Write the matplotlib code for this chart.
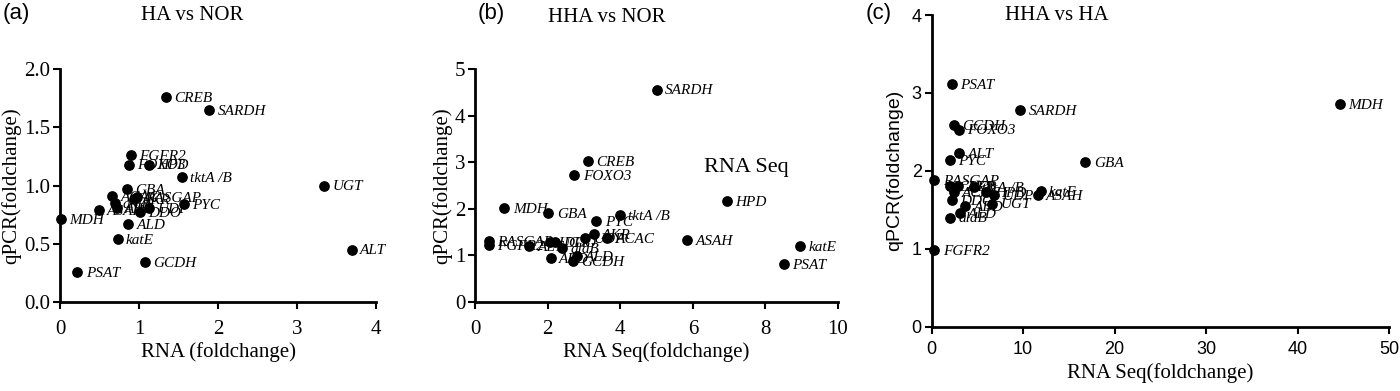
import matplotlib
matplotlib.use("Agg")
import matplotlib.pyplot as plt

# --------------------------------------------------
# Data
# --------------------------------------------------
genes_a = ["CREB", "SARDH", "FGFR2", "FOXO3", "HPD", "tktA /B", "UGT", "ALT",
           "GBA", "ACAC", "RASGAP", "AKR", "PYC", "MDH", "ASAH", "aldB", "ABD",
           "DDO", "UDP", "ALD", "katE", "GCDH", "PSAT"]
rna_a = [1.34, 1.89, 0.90, 0.87, 1.13, 1.54, 3.34, 3.69,
         0.85, 0.66, 0.97, 0.93, 1.57, 0.01, 0.49, 0.69, 0.72,
         1.01, 1.13, 0.86, 0.73, 1.07, 0.22]
qpcr_a = [1.76, 1.65, 1.26, 1.18, 1.18, 1.07, 1.00, 0.45,
          0.97, 0.91, 0.90, 0.88, 0.84, 0.71, 0.79, 0.85, 0.81,
          0.77, 0.81, 0.67, 0.54, 0.34, 0.26]

genes_b = ["SARDH", "CREB", "FOXO3", "HPD", "MDH", "GBA", "tktA /B", "PYC",
           "AKR", "ACAC", "UDP", "ASAH", "katE", "PSAT", "RASGAP", "FGFR2",
           "ALT", "UGT", "DDO", "aldB", "ABD", "GCDH", "ALD"]
rna_b = [5.01, 3.10, 2.74, 6.95, 0.81, 2.02, 3.99, 3.34,
         3.27, 3.64, 3.03, 5.84, 8.96, 8.50, 0.39, 0.38,
         1.50, 2.07, 2.20, 2.39, 2.09, 2.69, 2.80]
qpcr_b = [4.56, 3.03, 2.73, 2.17, 2.01, 1.90, 1.86, 1.73,
          1.45, 1.37, 1.37, 1.33, 1.21, 0.81, 1.31, 1.23,
          1.21, 1.29, 1.28, 1.15, 0.95, 0.88, 0.98]

genes_c = ["PSAT", "SARDH", "MDH", "GCDH", "FOXO3", "ALT", "PYC", "GBA",
           "RASGAP", "FGFR2", "katE", "ASAH", "CREB", "AKR", "tktA /B", "HPD",
           "ACAC", "DDO", "UDP", "UGT", "ALD", "aldB", "ABD"]
rna_c = [2.2, 9.7, 44.6, 2.4, 3.0, 3.0, 2.0, 16.8,
         0.3, 0.3, 11.9, 11.6, 2.0, 2.9, 4.6, 6.0,
         2.4, 2.2, 6.8, 6.6, 3.1, 2.0, 3.7]
qpcr_c = [3.11, 2.78, 2.86, 2.59, 2.53, 2.23, 2.14, 2.11,
          1.88, 0.98, 1.74, 1.69, 1.81, 1.81, 1.79, 1.73,
          1.73, 1.62, 1.69, 1.58, 1.46, 1.40, 1.55]

serif = "Liberation Serif"
sans = "Liberation Sans"

fig = plt.figure(figsize=(14, 3.91), dpi=100)


def style_axes(ax, xlim, ylim, xticks, yticks, tick_font, xpad=8):
    for s in ["top", "right"]:
        ax.spines[s].set_visible(False)
    for s in ["left", "bottom"]:
        ax.spines[s].set_linewidth(2)
    ax.set_xlim(*xlim)
    ax.set_ylim(*ylim)
    ax.set_xticks(xticks)
    ax.set_yticks(yticks)
    ax.tick_params(direction="out", length=5, width=1.5,
                   labelsize=15 if tick_font == serif else 13)
    ax.tick_params(axis="x", pad=xpad)
    ax.tick_params(axis="y", pad=2)
    for lab in ax.get_xticklabels() + ax.get_yticklabels():
        lab.set_fontfamily(tick_font)


def scatter_panel(ax, x, y, names):
    ax.scatter(x, y, s=45, color="black", zorder=3, clip_on=False)
    for xi, yi, nm in zip(x, y, names):
        ax.annotate(nm, (xi, yi), xytext=(6, -1), textcoords="offset points",
                    va="center", ha="left", fontsize=11, fontstyle="italic",
                    family=serif)


# --------------------------------------------------
# (a) HA vs NOR
# --------------------------------------------------
ax1 = fig.add_axes([0.0429, 0.2276, 0.2257, 0.5959])
scatter_panel(ax1, rna_a, qpcr_a, genes_a)
style_axes(ax1, (0, 4), (0, 2.0), [0, 1, 2, 3, 4], [0.0, 0.5, 1.0, 1.5, 2.0], serif)
ax1.set_yticklabels(["0.0", "0.5", "1.0", "1.5", "2.0"], family=serif)
ax1.set_xlabel("RNA (foldchange)", family=serif, fontsize=15, labelpad=2)
ax1.set_ylabel("qPCR(foldchange)", family=serif, fontsize=15, labelpad=2)

# --------------------------------------------------
# (b) HHA vs NOR
# --------------------------------------------------
ax2 = fig.add_axes([0.3393, 0.2276, 0.2593, 0.5959])
scatter_panel(ax2, rna_b, qpcr_b, genes_b)
style_axes(ax2, (0, 10), (0, 5), [0, 2, 4, 6, 8, 10], [0, 1, 2, 3, 4, 5], serif)
ax2.set_xlabel("RNA Seq(foldchange)", family=serif, fontsize=15, labelpad=2)
ax2.set_ylabel("qPCR(foldchange)", family=serif, fontsize=15, labelpad=2)
ax2.text(6.3, 2.8, "RNA Seq", family=serif, fontsize=16)

# --------------------------------------------------
# (c) HHA vs HA
# --------------------------------------------------
ax3 = fig.add_axes([0.6654, 0.1645, 0.327, 0.7971])
scatter_panel(ax3, rna_c, qpcr_c, genes_c)
style_axes(ax3, (0, 50), (0, 4), [0, 10, 20, 30, 40, 50], [0, 1, 2, 3, 4], sans, xpad=5)
ax3.set_xlabel("RNA Seq(foldchange)", family=serif, fontsize=15, labelpad=4)
ax3.set_ylabel("qPCR(foldchange)", family=sans, fontsize=14, labelpad=6)

# titles and panel letters
fig.text(192 / 1400, 1 - 15 / 391, "HA vs NOR", family=serif, fontsize=15, ha="center", va="center")
fig.text(607 / 1400, 1 - 17 / 391, "HHA vs NOR", family=serif, fontsize=15, ha="center", va="center")
fig.text(1057 / 1400, 1 - 15 / 391, "HHA vs HA", family=serif, fontsize=15, ha="center", va="center")
fig.text(16 / 1400, 1 - 13 / 391, "(a)", family=sans, fontsize=16, ha="center", va="center")
fig.text(491 / 1400, 1 - 13 / 391, "(b)", family=sans, fontsize=16, ha="center", va="center")
fig.text(879 / 1400, 1 - 13 / 391, "(c)", family=sans, fontsize=16, ha="center", va="center")

fig.savefig("out.png", dpi=100)
